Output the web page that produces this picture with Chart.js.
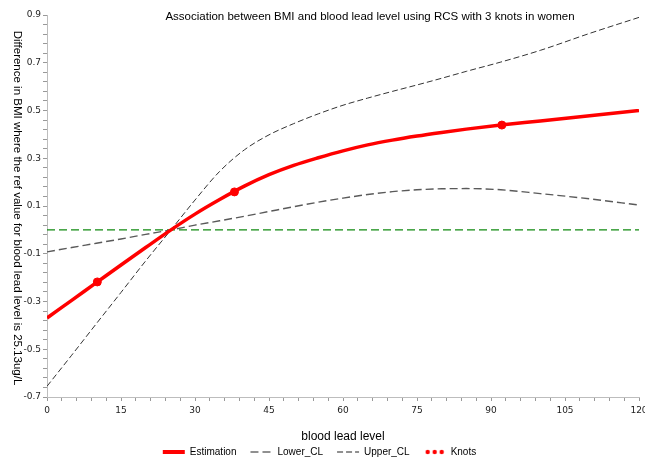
<!DOCTYPE html>
<html>
<head>
<meta charset="utf-8">
<script src="https://cdn.jsdelivr.net/npm/chart.js@4.4.1/dist/chart.umd.min.js"></script>
<style>
  html, body { margin: 0; padding: 0; background: #fff; }
</style>
</head>
<body>
<canvas id="chart" width="645" height="460"></canvas>
<script>
// ---------- data ----------
const xs         = [0, 5, 10, 15, 20, 25.13, 30, 35, 40, 45, 50, 55, 60, 65, 70, 75, 80, 85, 92, 100, 110, 120];
const estimation = [-0.369, -0.295, -0.221, -0.147, -0.074, 0, 0.066, 0.127, 0.183, 0.231, 0.270, 0.302, 0.331, 0.356, 0.376, 0.393, 0.408, 0.422, 0.439, 0.456, 0.478, 0.500];
const lowerCL    = [-0.092, -0.074, -0.056, -0.038, -0.019, 0, 0.020, 0.038, 0.057, 0.077, 0.097, 0.116, 0.133, 0.148, 0.160, 0.168, 0.172, 0.173, 0.168, 0.152, 0.130, 0.104];
const upperCL    = [-0.655, -0.525, -0.393, -0.262, -0.130, 0, 0.125, 0.245, 0.335, 0.398, 0.445, 0.486, 0.522, 0.552, 0.580, 0.607, 0.635, 0.664, 0.703, 0.752, 0.823, 0.890];
const knotX = [10.2, 38, 92.2];
const knotY = [-0.218, 0.159, 0.439];
const refX = [0, 120];
const refY = [0, 0];

const xTicks = [0, 15, 30, 45, 60, 75, 90, 105, 120];
const yTicks = [-0.7, -0.5, -0.3, -0.1, 0.1, 0.3, 0.5, 0.7, 0.9];

const chartTitle = 'Association between BMI and blood lead level using RCS with 3 knots in women';
const xTitle = 'blood lead level';
const yTitle = 'Difference in BMI where the ref value for blood lead level is 25.13ug/L';

// ---------- helpers ----------
const pts = (a, b) => a.map((v, i) => ({ x: v, y: b[i] }));
const SANS = '"Liberation Sans", Arial, sans-serif';
const TICKFONT = '"DejaVu Sans", Verdana, sans-serif';

// major ticks plus minor ones in between
function withMinor(major, parts) {
    const out = [];
    for (let i = 0; i < major.length - 1; i++) {
        const step = (major[i + 1] - major[i]) / parts;
        for (let j = 0; j < parts; j++) out.push(Math.round((major[i] + j * step) * 1000) / 1000);
    }
    out.push(major[major.length - 1]);
    return out;
}
const isMajor = (list, v) => list.some(m => Math.abs(m - v) < 1e-6);

// three red dots for the Knots legend entry
const knotIcon = document.createElement('canvas');
knotIcon.width = 20; knotIcon.height = 6;
(function () {
    const c = knotIcon.getContext('2d');
    c.fillStyle = '#ff0000';
    [3, 10, 17].forEach(x => { c.beginPath(); c.arc(x, 3, 2.2, 0, Math.PI * 2); c.fill(); });
})();

// ---------- titles ----------
const textPlugin = {
    id: 'texts',
    afterDraw(chart) {
        const ctx = chart.ctx, a = chart.chartArea;
        ctx.save();
        ctx.fillStyle = '#000';
        ctx.textAlign = 'center';
        ctx.textBaseline = 'middle';
        ctx.font = '11.5px ' + SANS;
        ctx.fillText(chartTitle, 370, 17);
        ctx.font = '12px ' + SANS;
        ctx.fillText(xTitle, (a.left + a.right) / 2, a.bottom + 40);
        ctx.font = '11.5px ' + SANS;
        ctx.translate(17, (a.top + a.bottom) / 2 + 2);
        ctx.rotate(Math.PI / 2);
        ctx.fillText(yTitle, 0, 0);
        ctx.restore();
    }
};

new Chart(document.getElementById('chart'), {
    type: 'scatter',
    data: {
        datasets: [
            {
                label: 'Estimation',
                data: pts(xs, estimation),
                showLine: true,
                borderColor: '#ff0000',
                borderWidth: 3.5,
                pointRadius: 0,
                cubicInterpolationMode: 'monotone'
            },
            {
                label: 'Lower_CL',
                data: pts(xs, lowerCL),
                showLine: true,
                borderColor: '#5a5a5a',
                borderWidth: 1.4,
                borderDash: [8, 4],
                pointRadius: 0,
                cubicInterpolationMode: 'monotone'
            },
            {
                label: 'Upper_CL',
                data: pts(xs, upperCL),
                showLine: true,
                borderColor: '#333333',
                borderWidth: 1,
                borderDash: [6, 3],
                pointRadius: 0,
                cubicInterpolationMode: 'monotone'
            },
            {
                label: 'Knots',
                data: pts(knotX, knotY),
                showLine: false,
                pointRadius: 4,
                backgroundColor: '#ff0000',
                borderColor: '#ff0000'
            },
            {
                label: 'ref',
                data: pts(refX, refY),
                showLine: true,
                borderColor: '#118a11',
                borderWidth: 1.2,
                borderDash: [8, 4],
                pointRadius: 0
            }
        ]
    },
    options: {
        responsive: false,
        animation: false,
        layout: { padding: { top: 15, right: 6, left: 0, bottom: -7 } },
        scales: {
            x: {
                type: 'linear',
                min: 0,
                max: 120,
                afterBuildTicks: s => { s.ticks = withMinor(xTicks, 5).map(v => ({ value: v })); },
                afterFit: s => { s.height = 36; s.paddingLeft = 0; s.paddingRight = 0; },
                ticks: {
                    autoSkip: false,
                    maxRotation: 0,
                    padding: 4,
                    color: '#222',
                    font: { size: 9, family: TICKFONT },
                    callback: v => isMajor(xTicks, v) ? String(v) : ''
                },
                grid: { drawOnChartArea: false, tickLength: 4, tickColor: '#999' },
                border: { color: '#bdbdbd', width: 1 }
            },
            y: {
                type: 'linear',
                min: -0.7,
                max: 0.9,
                afterBuildTicks: s => { s.ticks = withMinor(yTicks, 5).map(v => ({ value: v })); },
                afterFit: s => { s.width = 47; },
                ticks: {
                    autoSkip: false,
                    padding: 2,
                    color: '#222',
                    font: { size: 9, family: TICKFONT },
                    callback: v => isMajor(yTicks, v) ? v.toFixed(1) : ''
                },
                grid: { drawOnChartArea: false, tickLength: 4, tickColor: '#999' },
                border: { color: '#bdbdbd', width: 1 }
            }
        },
        plugins: {
            tooltip: { enabled: false },
            title: { display: false },
            legend: {
                position: 'bottom',
                labels: {
                    usePointStyle: true,
                    pointStyleWidth: 22,
                    padding: 14,
                    color: '#000',
                    font: { size: 10, family: SANS },
                    generateLabels: chart => chart.data.datasets.slice(0, 4).map((d, i) => ({
                        text: d.label,
                        datasetIndex: i,
                        hidden: false,
                        strokeStyle: i === 0 ? d.borderColor : '#222',
                        fillStyle: d.borderColor,
                        lineWidth: i === 0 ? 4 : 1.2,
                        lineDash: d.borderDash || [],
                        pointStyle: i === 3 ? knotIcon : 'line'
                    }))
                }
            }
        }
    },
    plugins: [textPlugin]
});
</script>
</body>
</html>
